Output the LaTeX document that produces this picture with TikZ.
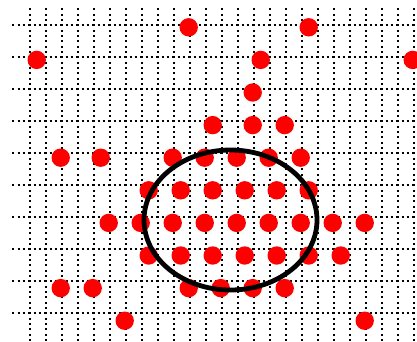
\documentclass[tikz,border=0pt]{standalone}
\begin{document}
\begin{tikzpicture}[x=1pt,y=-1pt,
  gridline/.style={line width=2pt, dash pattern=on 2pt off 3.3333pt},
  reddot/.style={fill=red},
  ring/.style={draw=black, line width=4.8pt}]
\useasboundingbox (0,0) rectangle (417,341);
% dotted grid
\foreach \j in {0,...,9}
  \draw[gridline] (12.3,{25+32.04*\j}) -- (417,{25+32.04*\j});
\foreach \m in {0,...,24}
  \draw[gridline] ({30+16*\m},8.3) -- ({30+16*\m},341);
% red points
\foreach \j/\ks in {0/{23,38},1/{4,32,51},2/{31},3/{26,31,35},
    4/{7,12,21,25,29,33,37},5/{18,22,26,30,34,38},
    6/{13,17,21,25,29,33,37,41,45},7/{18,22,26,30,34,38,42},
    8/{7,11,23,27,31,35},9/{15,45}}
  \foreach \k in \ks
    \fill[reddot] ({4.7+8*\k},{27.3+32.6*\j}) circle[radius=9.2pt];
% ellipse
\coordinate (c) at (230.5,220);
\draw[ring] (c) ellipse[x radius=86.5pt, y radius=70pt];
\end{tikzpicture}
\end{document}
